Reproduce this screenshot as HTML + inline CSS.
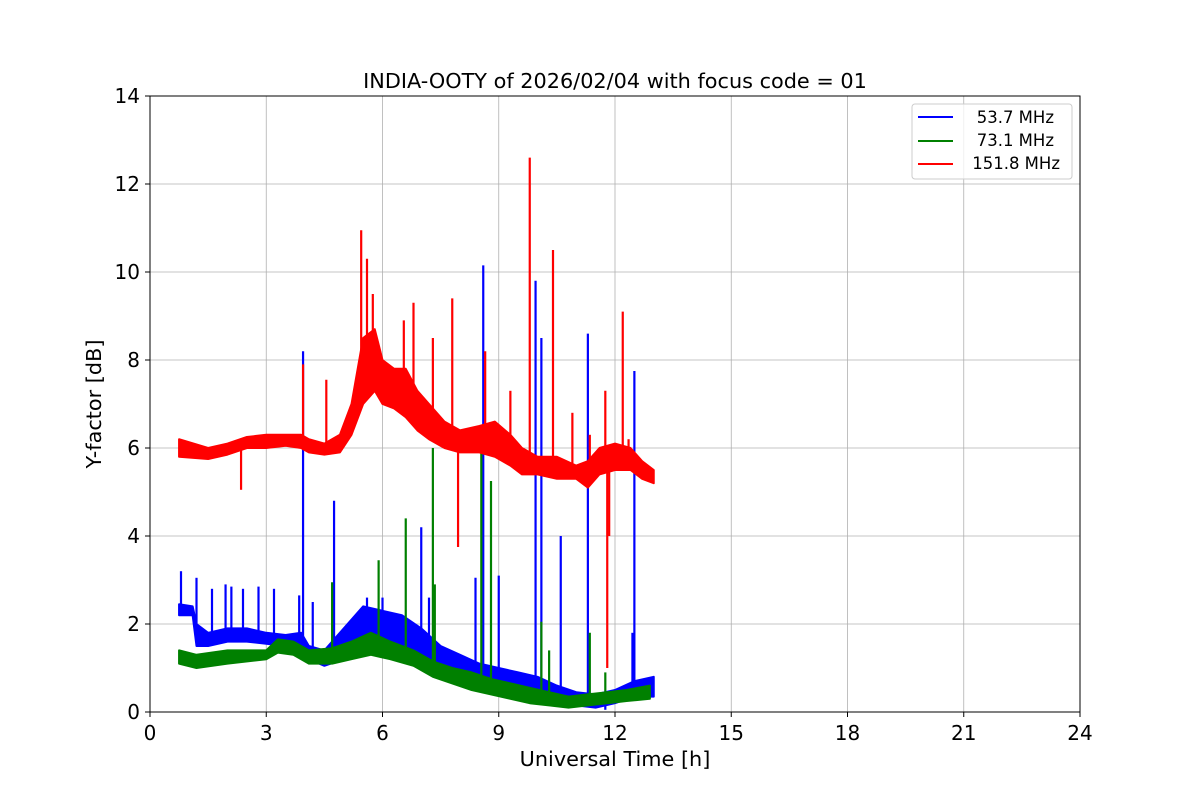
<!DOCTYPE html>
<html><head><meta charset="utf-8"><style>
body{margin:0;background:#fff;font-family:"Liberation Sans","DejaVu Sans",sans-serif}
svg text{font-family:"DejaVu Sans","Liberation Sans",sans-serif}
</style></head><body>
<svg id="chart" width="1200" height="800" xmlns="http://www.w3.org/2000/svg">
<rect width="1200" height="800" fill="#fff"/>
<g id="grid"></g>
<g id="series"></g>
<rect x="150" y="96" width="930" height="616" fill="none" stroke="#000" stroke-width="1"/>
<g id="axes"></g>
<text x="615" y="88" font-size="20.8" text-anchor="middle">INDIA-OOTY of 2026/02/04 with focus code = 01</text>
<text x="615" y="766" font-size="20.8" text-anchor="middle">Universal Time [h]</text>
<text transform="translate(101,404) rotate(-90)" font-size="20.8" text-anchor="middle">Y-factor [dB]</text>
<g>
<rect x="912" y="104" width="160" height="75" rx="3" fill="#fff" fill-opacity="0.8" stroke="#ccc"/>
<line x1="918" y1="117" x2="953" y2="117" stroke="blue" stroke-width="2"/>
<text x="1054" y="123" font-size="16.5" text-anchor="end">53.7 MHz</text>
<line x1="918" y1="141" x2="953" y2="141" stroke="green" stroke-width="2"/>
<text x="1054" y="146" font-size="16.5" text-anchor="end">73.1 MHz</text>
<line x1="918" y1="164" x2="953" y2="164" stroke="red" stroke-width="2"/>
<text x="1060" y="169" font-size="16.5" text-anchor="end">151.8 MHz</text>
</g>
</svg>
<script>
const xTicks=[0,3,6,9,12,15,18,21,24];
const yTicks=[0,2,4,6,8,10,12,14];
const blueT=[0.75,1.1,1.2,1.5,2.0,2.5,3.0,3.5,3.9,4.1,4.5,5.0,5.5,6.0,6.5,7.0,7.5,8.0,8.5,9.0,9.5,10.0,10.5,11.0,11.5,12.0,12.5,13.0];
const blueLo=[2.2,2.2,1.5,1.5,1.6,1.6,1.55,1.5,1.5,1.2,1.05,1.2,1.4,1.3,1.2,1.0,0.8,0.7,0.5,0.4,0.35,0.3,0.2,0.15,0.1,0.2,0.35,0.35];
const blueHi=[2.45,2.4,2.0,1.8,1.9,1.9,1.8,1.75,1.8,1.5,1.4,1.9,2.4,2.3,2.2,1.9,1.5,1.3,1.1,1.0,0.9,0.8,0.6,0.45,0.4,0.5,0.7,0.8];
const blueSpikeT=[0.8,1.2,1.6,1.95,2.1,2.4,2.8,3.2,3.85,3.95,4.2,4.75,5.6,6.0,7.0,7.2,8.4,8.6,9.0,9.95,10.1,10.6,11.3,11.75,12.45,12.5];
const blueSpikeV=[3.2,3.05,2.8,2.9,2.85,2.8,2.85,2.8,2.65,8.2,2.5,4.8,2.6,2.6,4.2,2.6,3.05,10.15,3.1,9.8,8.5,4.0,8.6,0.05,1.8,7.75];
const greenT=[0.75,1.2,2.0,3.0,3.3,3.7,4.1,4.7,5.2,5.7,6.2,6.8,7.3,7.8,8.3,8.8,9.3,9.8,10.3,10.8,11.3,11.8,12.3,12.9];
const greenLo=[1.1,1.0,1.1,1.2,1.35,1.3,1.1,1.1,1.2,1.3,1.2,1.05,0.8,0.65,0.5,0.4,0.3,0.2,0.15,0.1,0.15,0.2,0.25,0.3];
const greenHi=[1.4,1.3,1.4,1.4,1.65,1.6,1.4,1.45,1.6,1.8,1.6,1.4,1.15,1.0,0.9,0.75,0.65,0.55,0.45,0.35,0.4,0.45,0.5,0.6];
const greenSpikeT=[4.7,5.9,6.6,7.3,7.35,8.55,8.8,10.1,10.3,11.35,11.75];
const greenSpikeV=[2.95,3.45,4.4,6.0,2.9,5.9,5.25,2.05,1.4,1.8,0.9];
const redT=[0.75,1.5,2.0,2.5,3.0,3.5,3.9,4.1,4.5,4.9,5.2,5.5,5.8,6.0,6.3,6.6,6.9,7.2,7.6,8.0,8.5,8.9,9.3,9.6,10.0,10.5,11.0,11.3,11.6,12.0,12.4,12.7,13.0];
const redLo=[5.8,5.75,5.85,6.0,6.0,6.05,6.0,5.9,5.85,5.9,6.3,7.0,7.3,7.0,6.9,6.7,6.4,6.2,6.0,5.9,5.9,5.8,5.6,5.4,5.4,5.3,5.3,5.1,5.4,5.5,5.5,5.3,5.2];
const redHi=[6.2,6.0,6.1,6.25,6.3,6.3,6.3,6.2,6.1,6.3,7.0,8.5,8.7,8.0,7.8,7.8,7.3,7.0,6.6,6.4,6.5,6.6,6.3,6.0,5.8,5.8,5.6,5.7,6.0,6.1,6.0,5.7,5.5];
const redSpikeT=[2.35,3.95,4.55,5.45,5.6,5.75,6.55,6.8,7.3,7.8,7.95,8.65,9.3,9.8,10.4,10.9,11.35,11.75,11.8,11.85,12.2,12.35];
const redSpikeV=[5.05,7.9,7.55,10.95,10.3,9.5,8.9,9.3,8.5,9.4,3.75,8.2,7.3,12.6,10.5,6.8,6.3,7.3,1.0,4.0,9.1,6.2];

const NS='http://www.w3.org/2000/svg';
const X=t=>150+t/24*930, Y=v=>712-v/14*616;
function mk(tag,attrs,parent){const e=document.createElementNS(NS,tag);for(const k in attrs)e.setAttribute(k,attrs[k]);parent.appendChild(e);return e;}
const grid=document.getElementById('grid'),axes=document.getElementById('axes'),ser=document.getElementById('series');
xTicks.forEach(t=>{
  const g=mk('line',{x1:X(t),x2:X(t),y1:96,y2:712,stroke:'#b0b0b0','stroke-width':0.8},grid);
  
  
  mk('line',{x1:X(t),x2:X(t),y1:712,y2:717,stroke:'#000'},axes);
  const l=mk('text',{x:X(t),y:740,'font-size':20,'text-anchor':'middle'},axes);l.textContent=t;
  
  
});
yTicks.forEach(v=>{
  const g=mk('line',{x1:150,x2:1080,y1:Y(v),y2:Y(v),stroke:'#b0b0b0','stroke-width':0.8},grid);
  
  
  mk('line',{x1:145,x2:150,y1:Y(v),y2:Y(v),stroke:'#000'},axes);
  const l=mk('text',{x:140,y:Y(v)+7,'font-size':20,'text-anchor':'end'},axes);l.textContent=v;
  
  
});
function interp(T,A,t){for(let i=0;i<T.length-1;i++){if(t<=T[i+1]){const f=(t-T[i])/(T[i+1]-T[i]);return A[i]+f*(A[i+1]-A[i]);}}return A[A.length-1];}
function series(name,col,T,lo,hi,sT,sV){
  const g=mk('g',{},ser);
  
  
  let d='M'+T.map((t,i)=>X(t)+','+Y(hi[i])).join('L');
  for(let i=T.length-1;i>=0;i--)d+='L'+X(T[i])+','+Y(lo[i]);
  const p=mk('path',{d:d+'Z',fill:col,stroke:col,'stroke-width':2,'stroke-linejoin':'round'},g);
  
  
  sT.forEach((t,i)=>{
    const m=(interp(T,lo,t)+interp(T,hi,t))/2;
    const s=mk('line',{x1:X(t),x2:X(t),y1:Y(m),y2:Y(sV[i]),stroke:col,'stroke-width':2.2},g);
    
    
  });
}
series('series-53-7-mhz','blue',blueT,blueLo,blueHi,blueSpikeT,blueSpikeV);
series('series-73-1-mhz','green',greenT,greenLo,greenHi,greenSpikeT,greenSpikeV);
series('series-151-8-mhz','red',redT,redLo,redHi,redSpikeT,redSpikeV);
</script>
</body></html>
